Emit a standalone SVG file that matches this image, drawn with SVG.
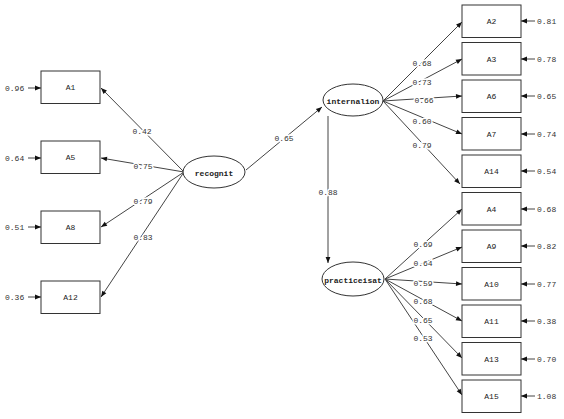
<svg xmlns="http://www.w3.org/2000/svg" width="564" height="419" viewBox="0 0 564 419">
<defs>
<marker id="ah" viewBox="0 0 10 10" refX="10" refY="5" markerWidth="10" markerHeight="6" markerUnits="userSpaceOnUse" orient="auto">
<path d="M0,1 L10,5 L0,9 Z" fill="#111"/>
</marker>
</defs>
<style>
.box{fill:#fff;stroke:#333;stroke-width:1}
.ell{fill:#fff;stroke:#333;stroke-width:1}
.ln{stroke:#444;stroke-width:1;fill:none;marker-end:url(#ah)}
.t{font-family:"Liberation Mono",monospace;font-size:8px;fill:#222;text-anchor:middle;dominant-baseline:central}
.lb{font-family:"Liberation Mono",monospace;font-size:8px;fill:#333;text-anchor:middle;dominant-baseline:central;paint-order:stroke;stroke:#fff;stroke-width:3px}
.el{font-family:"Liberation Mono",monospace;font-size:8px;fill:#333;dominant-baseline:central}
.et{font-family:"Liberation Mono",monospace;font-size:8px;font-weight:bold;fill:#222;text-anchor:middle;dominant-baseline:central}
</style>
<rect width="564" height="419" fill="#fff"/>
<g id="connectors">
<line class="ln" x1="184" y1="172" x2="101" y2="88"/>
<line class="ln" x1="184" y1="172" x2="101" y2="158"/>
<line class="ln" x1="184" y1="172" x2="101" y2="227"/>
<line class="ln" x1="184" y1="172" x2="101" y2="297"/>
<line class="ln" x1="246" y1="170" x2="322" y2="107"/>
<line class="ln" x1="328" y1="116" x2="328" y2="263"/>
<line class="ln" x1="383" y1="101" x2="462" y2="22"/>
<line class="ln" x1="383" y1="101" x2="462" y2="59"/>
<line class="ln" x1="383" y1="101" x2="462" y2="96"/>
<line class="ln" x1="383" y1="101" x2="462" y2="134"/>
<line class="ln" x1="383" y1="101" x2="460" y2="184"/>
<line class="ln" x1="385" y1="279" x2="462" y2="209"/>
<line class="ln" x1="385" y1="279" x2="462" y2="247"/>
<line class="ln" x1="385" y1="279" x2="462" y2="284"/>
<line class="ln" x1="385" y1="279" x2="462" y2="321"/>
<line class="ln" x1="385" y1="279" x2="462" y2="358"/>
<line class="ln" x1="385" y1="279" x2="462" y2="395"/>
<line class="ln" x1="28" y1="88" x2="41" y2="88"/>
<line class="ln" x1="28" y1="158" x2="41" y2="158"/>
<line class="ln" x1="28" y1="227" x2="41" y2="227"/>
<line class="ln" x1="28" y1="297" x2="41" y2="297"/>
<line class="ln" x1="535" y1="21" x2="521" y2="21"/>
<line class="ln" x1="535" y1="59" x2="521" y2="59"/>
<line class="ln" x1="535" y1="96" x2="521" y2="96"/>
<line class="ln" x1="535" y1="134" x2="521" y2="134"/>
<line class="ln" x1="535" y1="171" x2="521" y2="171"/>
<line class="ln" x1="535" y1="209" x2="521" y2="209"/>
<line class="ln" x1="535" y1="246" x2="521" y2="246"/>
<line class="ln" x1="535" y1="284" x2="521" y2="284"/>
<line class="ln" x1="535" y1="321" x2="521" y2="321"/>
<line class="ln" x1="535" y1="359" x2="521" y2="359"/>
<line class="ln" x1="535" y1="396" x2="521" y2="396"/>
<text class="lb" x="142" y="131">0.42</text>
<text class="lb" x="143" y="166">0.75</text>
<text class="lb" x="143" y="201">0.79</text>
<text class="lb" x="143" y="237">0.83</text>
<text class="lb" x="284" y="138">0.65</text>
<text class="lb" x="328" y="192">0.88</text>
<text class="lb" x="422" y="63">0.68</text>
<text class="lb" x="422" y="82">0.73</text>
<text class="lb" x="424" y="100">0.66</text>
<text class="lb" x="422" y="121">0.60</text>
<text class="lb" x="422" y="145">0.79</text>
<text class="lb" x="423" y="244">0.69</text>
<text class="lb" x="423" y="263">0.64</text>
<text class="lb" x="423" y="283">0.59</text>
<text class="lb" x="423" y="301">0.68</text>
<text class="lb" x="423" y="320">0.65</text>
<text class="lb" x="423" y="338">0.53</text>
<text class="el" x="5" y="88">0.96</text>
<text class="el" x="5" y="158">0.64</text>
<text class="el" x="5" y="227">0.51</text>
<text class="el" x="5" y="297">0.36</text>
<text class="el" x="537" y="21">0.81</text>
<text class="el" x="537" y="59">0.78</text>
<text class="el" x="537" y="96">0.65</text>
<text class="el" x="537" y="134">0.74</text>
<text class="el" x="537" y="171">0.54</text>
<text class="el" x="537" y="209">0.68</text>
<text class="el" x="537" y="246">0.82</text>
<text class="el" x="537" y="284">0.77</text>
<text class="el" x="537" y="321">0.38</text>
<text class="el" x="537" y="359">0.70</text>
<text class="el" x="537" y="396">1.08</text>
</g>
<g id="A1"><rect class="box" x="41" y="71" width="59" height="32.5"/><text class="t" x="70.5" y="87.5">A1</text></g>
<g id="A5"><rect class="box" x="41" y="141" width="59" height="32.5"/><text class="t" x="70.5" y="157.5">A5</text></g>
<g id="A8"><rect class="box" x="41" y="211" width="59" height="32.5"/><text class="t" x="70.5" y="227.5">A8</text></g>
<g id="A12"><rect class="box" x="41" y="281" width="59" height="32.5"/><text class="t" x="70.5" y="297.5">A12</text></g>
<g id="recognit"><ellipse class="ell" cx="214" cy="172" rx="31" ry="16"/><text class="et" x="214" y="173">recognit</text></g>
<g id="internalion"><ellipse class="ell" cx="353" cy="100" rx="30" ry="16"/><text class="et" x="353" y="101">internalion</text></g>
<g id="practiceisat"><ellipse class="ell" cx="353" cy="279" rx="31" ry="17"/><text class="et" x="353" y="280">practiceisat</text></g>
<g id="A2"><rect class="box" x="462" y="5" width="59" height="32.5"/><text class="t" x="491.5" y="21.5">A2</text></g>
<g id="A3"><rect class="box" x="462" y="42.5" width="59" height="32.5"/><text class="t" x="491.5" y="59">A3</text></g>
<g id="A6"><rect class="box" x="462" y="80" width="59" height="32.5"/><text class="t" x="491.5" y="96.5">A6</text></g>
<g id="A7"><rect class="box" x="462" y="117.5" width="59" height="32.5"/><text class="t" x="491.5" y="134">A7</text></g>
<g id="A14"><rect class="box" x="462" y="155" width="59" height="32.5"/><text class="t" x="491.5" y="171.5">A14</text></g>
<g id="A4"><rect class="box" x="462" y="192.5" width="59" height="32.5"/><text class="t" x="491.5" y="209">A4</text></g>
<g id="A9"><rect class="box" x="462" y="230" width="59" height="32.5"/><text class="t" x="491.5" y="246.5">A9</text></g>
<g id="A10"><rect class="box" x="462" y="267.5" width="59" height="32.5"/><text class="t" x="491.5" y="284">A10</text></g>
<g id="A11"><rect class="box" x="462" y="305" width="59" height="32.5"/><text class="t" x="491.5" y="321.5">A11</text></g>
<g id="A13"><rect class="box" x="462" y="342.5" width="59" height="32.5"/><text class="t" x="491.5" y="359">A13</text></g>
<g id="A15"><rect class="box" x="462" y="380" width="59" height="32.5"/><text class="t" x="491.5" y="396.5">A15</text></g>
</svg>
